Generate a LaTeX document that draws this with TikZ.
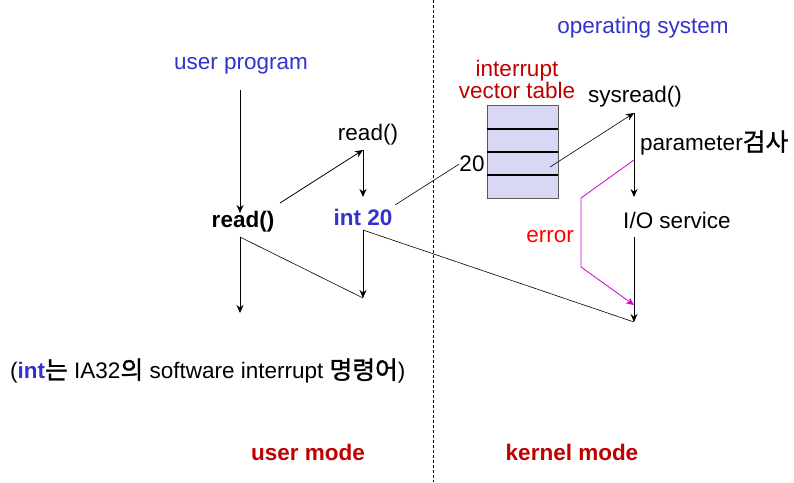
\documentclass[tikz,border=0pt]{standalone}
\usepackage{fontspec}
\setmainfont{Liberation Sans}
\newfontfamily\kr[Scale=1.1,FakeBold=1.2]{Noto Sans CJK KR}
\usetikzlibrary{arrows.meta}
\definecolor{osblue}{RGB}{51,51,204}
\definecolor{modered}{RGB}{192,0,0}
\definecolor{errred}{RGB}{255,0,0}
\definecolor{errline}{RGB}{204,0,204}
\definecolor{tablefill}{RGB}{216,216,244}
\tikzset{
  txt/.style={inner sep=0pt, font=\fontsize{22.5}{24}\selectfont},
  flow/.style={draw=black, line width=0.8pt, -{Stealth[length=8pt,width=7pt]}},
  link/.style={draw=black, line width=0.6pt},
  slot/.style={draw=black, line width=1.6pt},
}
\begin{document}
\begin{tikzpicture}[x=1pt,y=-1pt]
\useasboundingbox (0,0) rectangle (794,482);
% mode boundary
\draw[dashed, line width=0.6pt, dash pattern=on 3pt off 2pt] (433,0) -- (433,482);

% user side
\node[txt, text=osblue] (up) at (241,66) {user program};
\node[txt, font=\fontsize{22.5}{24}\selectfont\bfseries] (rd) at (243,222) {read()};
\node[txt] (rdl) at (368,135) {read()};
\node[txt, text=osblue, font=\fontsize{22.5}{24}\selectfont\bfseries] (int) at (363,217) {int 20};
\coordinate (upS) at (240,90);
\coordinate (rdN) at (240,213);
\coordinate (rdE) at (280,203);
\coordinate (rdlS) at (363,150);
\coordinate (intN) at (363,197);
\coordinate (intE) at (395,205);
\coordinate (intS) at (363,230);
\coordinate (rdS) at (240,237);
\coordinate (bot) at (363,298);
\coordinate (rdEnd) at (240,313);
\draw[flow] (upS) -- (rdN);
\draw[flow] (rdE) -- (rdlS);
\draw[flow] (rdlS) -- (intN);
\draw[flow] (intS) -- (bot);
\draw[link] (rdS) -- (bot);
\draw[flow] (rdS) -- (rdEnd);

% kernel side
\node[txt, text=osblue] (os) at (643,28) {operating system};
\node[txt, text=modered, align=center, font=\fontsize{22.5}{22}\selectfont] (ivt) at (517,79) {interrupt\\vector table};
\node[txt] (n20) at (472,164) {20};
\node[draw=gray!70!black, line width=0.6pt, fill=tablefill, minimum width=71pt, minimum height=93pt, inner sep=0pt] (tbl) at (522.5,151.5) {};
\draw[slot] (tbl.west |- 0,129) -- (tbl.east |- 0,129);
\draw[slot] (tbl.west |- 0,152) -- (tbl.east |- 0,152);
\draw[slot] (tbl.west |- 0,175) -- (tbl.east |- 0,175);
\draw[link] (intE) -- (n20.west);
\node[txt] (sys) at (635,97) {sysread()};
\node[txt, anchor=west] (par) at (640,143) {parameter{\kr 검사}};
\node[txt] (io) at (677,220) {I/O service};
\node[txt, text=errred] (err) at (550,237) {error};
\coordinate (slot20) at (550,167);
\coordinate (sysS) at (634,113);
\coordinate (ioN) at (634,197);
\coordinate (ioS) at (634,237);
\coordinate (kEnd) at (634,322);
\coordinate (chk) at (634,160);
\coordinate (e1) at (581,198);
\coordinate (e2) at (581,267);
\coordinate (eEnd) at (634,305);
\draw[flow, line width=0.6pt] (slot20) -- (sysS);
\draw[flow] (sysS) -- (ioN);
\draw[flow] (ioS) -- (kEnd);
\draw[link] (intS) -- (kEnd);
\draw[errline, line width=0.8pt, -{Stealth[length=8pt,width=7pt]}] (chk) -- (e1) -- (e2) -- (eEnd);

% notes and mode labels
\node[txt, anchor=west] (note) at (10,371) {({\bfseries\color{osblue}int}{\kr 는} IA32{\kr 의} software interrupt {\kr 명령어})};
\node[txt, text=modered, font=\fontsize{22.5}{24}\selectfont\bfseries] (um) at (308,452) {user mode};
\node[txt, text=modered, font=\fontsize{22.5}{24}\selectfont\bfseries] (km) at (572,452) {kernel mode};
\end{tikzpicture}
\end{document}
